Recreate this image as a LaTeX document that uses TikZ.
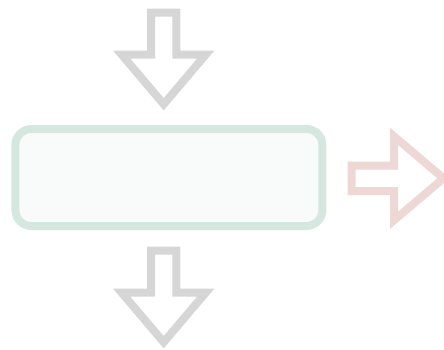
\documentclass[tikz,border=0pt]{standalone}
\definecolor{arrgray}{RGB}{214,214,214}
\definecolor{arrpink}{RGB}{238,216,213}
\definecolor{boxgreen}{RGB}{213,232,224}
\definecolor{boxfill}{RGB}{249,251,250}
\tikzset{
  blockarrow/.style={draw=#1, line width=8pt, line join=miter, miter limit=10, fill=white},
  boxstyle/.style={draw=boxgreen, fill=boxfill, line width=8pt, rounded corners=16pt,
    minimum width=307pt, minimum height=97pt, inner sep=0pt}
}
\begin{document}
\begin{tikzpicture}[x=1pt,y=-1pt]
\useasboundingbox (0,0) rectangle (444,349);
% central box
\node[boxstyle] (box) at (168.9,177.5) {};
% top arrow
\draw[blockarrow=arrgray] (151,12.7) -- (176.4,12.7) -- (176.4,54.7) -- (205.7,54.7)
  -- (163.7,104.2) -- (121.7,54.7) -- (151,54.7) -- cycle;
% bottom arrow
\draw[blockarrow=arrgray] (151,250.7) -- (176.4,250.7) -- (176.4,292.7) -- (205.7,292.7)
  -- (163.7,342.2) -- (121.7,292.7) -- (151,292.7) -- cycle;
% right arrow
\draw[blockarrow=arrpink] (351.5,165.6) -- (394,165.6) -- (394,136.3) -- (443.5,178.3)
  -- (394,220.3) -- (394,191) -- (351.5,191) -- cycle;
\end{tikzpicture}
\end{document}
